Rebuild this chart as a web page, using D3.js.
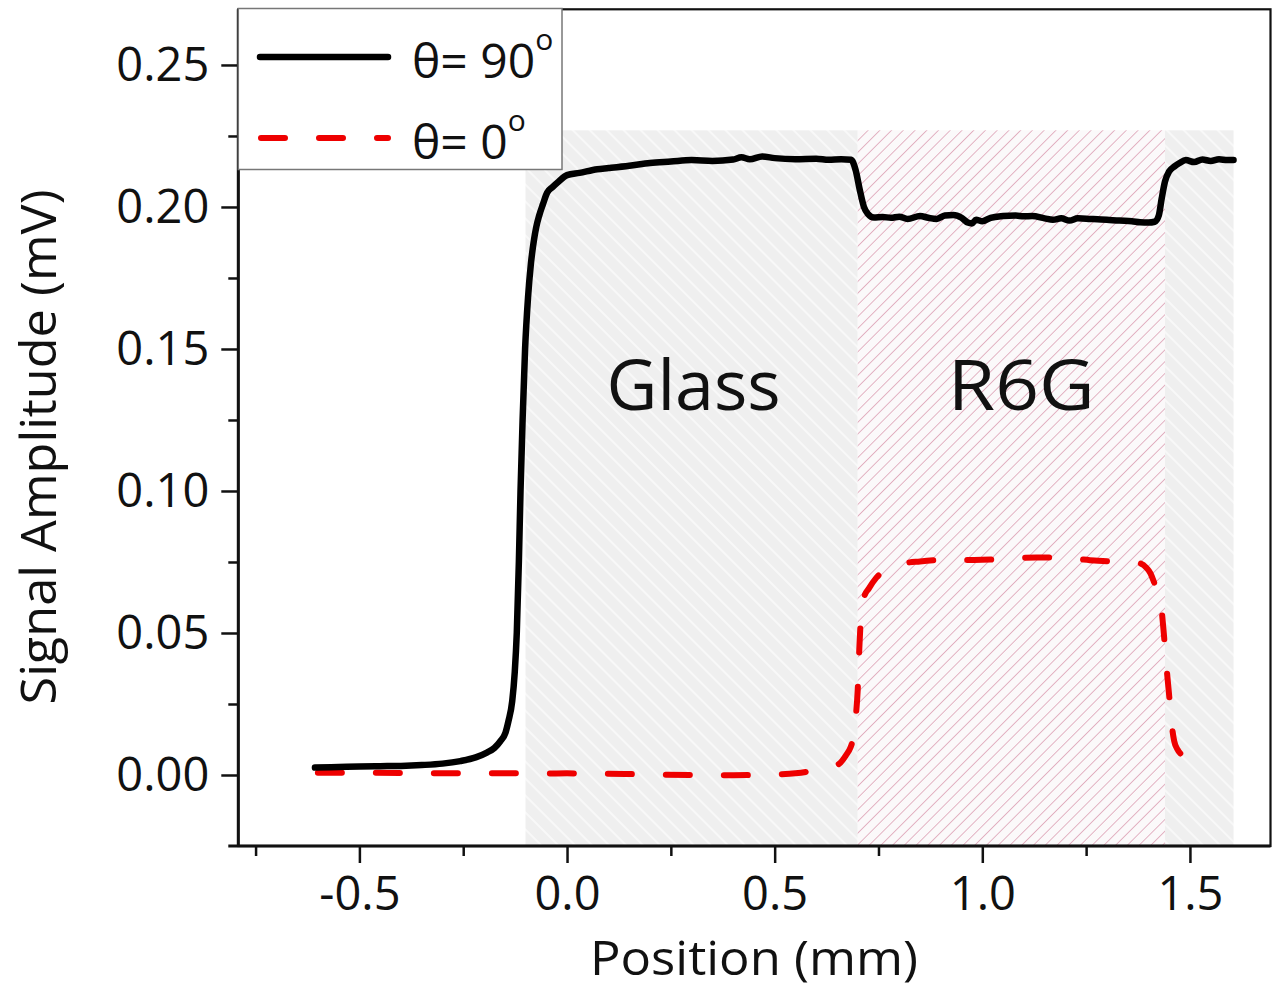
<!DOCTYPE html>
<html>
<head>
<meta charset="utf-8">
<script src="https://cdn.jsdelivr.net/npm/d3@7"></script>
<style>
  html, body { margin: 0; padding: 0; background: #fff; }
  svg { display: block; }
  text { font-family: "Open Sans", "Noto Sans", sans-serif; fill: #111; }
</style>
</head>
<body>
<svg id="chart" width="1280" height="993"></svg>
<script>
// ---- data ----
const xTicksMajor = [-0.5, 0.0, 0.5, 1.0, 1.5];
const xTicksMinor = [-0.75, -0.25, 0.25, 0.75, 1.25];
const yTicksMajor = [0.00, 0.05, 0.10, 0.15, 0.20, 0.25];
const yTicksMinor = [0.025, 0.075, 0.125, 0.175, 0.225];

const seriesNames = ["θ= 90", "θ= 0"];

const pos90 = [-0.607,-0.55,-0.5,-0.45,-0.4,-0.35,-0.3,-0.257,-0.22,-0.193,-0.175,-0.16,-0.148,-0.141,-0.132,-0.126,-0.121,-0.116,-0.112,-0.107,-0.101,-0.094,-0.087,-0.080,-0.074,-0.067,-0.058,-0.048,-0.035,-0.02,0.0,0.03,0.073,0.1,0.15,0.2,0.25,0.3,0.35,0.4,0.42,0.44,0.47,0.5,0.55,0.6,0.63,0.66,0.684,0.695,0.705,0.715,0.725,0.739,0.76,0.78,0.8,0.82,0.85,0.87,0.89,0.91,0.93,0.95,0.965,0.975,0.985,1.0,1.02,1.05,1.08,1.1,1.12,1.15,1.17,1.19,1.21,1.23,1.26,1.3,1.33,1.36,1.38,1.4,1.415,1.425,1.432,1.44,1.45,1.463,1.475,1.49,1.51,1.53,1.55,1.57,1.59,1.605];
const amp90 = [0.0026,0.0028,0.0030,0.0031,0.0032,0.0035,0.0040,0.0049,0.0062,0.0079,0.0095,0.012,0.015,0.019,0.026,0.036,0.050,0.075,0.100,0.125,0.150,0.168,0.180,0.188,0.193,0.197,0.201,0.205,0.207,0.209,0.2112,0.212,0.2133,0.2137,0.2145,0.2155,0.2160,0.2165,0.2162,0.2167,0.2175,0.2168,0.2178,0.2172,0.2168,0.2170,0.2166,0.2168,0.2166,0.213,0.206,0.200,0.1975,0.1963,0.1965,0.1962,0.1966,0.1958,0.1968,0.1962,0.1958,0.1970,0.1972,0.1962,0.1945,0.1942,0.1955,0.1950,0.1962,0.1968,0.1970,0.1967,0.1968,0.1960,0.1955,0.1960,0.1952,0.1960,0.1958,0.1955,0.1952,0.1950,0.1946,0.1945,0.1948,0.1970,0.2030,0.2090,0.2125,0.2143,0.2155,0.2165,0.2158,0.2167,0.2162,0.2168,0.2165,0.2165];

const pos0 = [-0.6,-0.5,-0.4,-0.3,-0.2,-0.1,-0.05,0.0,0.05,0.1,0.2,0.3,0.4,0.45,0.5,0.55,0.58,0.61,0.635,0.655,0.672,0.682,0.689,0.695,0.7,0.704,0.709,0.715,0.727,0.745,0.773,0.81,0.85,0.884,0.93,0.98,1.029,1.08,1.13,1.174,1.22,1.27,1.31,1.335,1.36,1.38,1.395,1.405,1.412,1.42,1.431,1.437,1.443,1.45,1.456,1.462,1.47,1.484,1.5,1.52,1.547];
const amp0 = [0.0008,0.0008,0.0007,0.0006,0.0006,0.0006,0.0005,0.0006,0.0004,0.0004,0.0002,0.0000,-0.0001,0.0000,0.0002,0.0006,0.0012,0.0022,0.0030,0.0039,0.0070,0.0095,0.0130,0.0200,0.0300,0.0450,0.0580,0.0625,0.0657,0.0695,0.0725,0.0745,0.0752,0.0756,0.0758,0.0757,0.0759,0.0764,0.0766,0.0766,0.0762,0.0755,0.0752,0.0749,0.0748,0.0745,0.0730,0.0710,0.0685,0.0650,0.0590,0.0500,0.0390,0.0280,0.0180,0.0120,0.0090,0.0067,0.0055,0.0048,0.0042];

const regionNames = ["Glass", "R6G", ""];
const regionStart = [-0.1, 0.7, 1.44];
const regionEnd   = [0.7, 1.44, 1.605];
const regionTop = 0.227;

// ---- layout ----
const svg = d3.select("#chart");
const L = 238.3, R = 1270.5, T = 9.3, B = 846;
const x = d3.scaleLinear().domain([-0.7916, 1.694]).range([L, R]);
const y = d3.scaleLinear().domain([-0.025, 0.2696]).range([B, T]);

// patterns
const defs = svg.append("defs");
const pg = defs.append("pattern").attr("id", "glassHatch").attr("patternUnits", "userSpaceOnUse")
  .attr("width", 12).attr("height", 12).attr("patternTransform", "rotate(-45)");
pg.append("rect").attr("width", 12).attr("height", 12).attr("fill", "#efefef");
pg.append("line").attr("x1", 0).attr("y1", 0).attr("x2", 0).attr("y2", 12)
  .attr("stroke", "#f8f8f8").attr("stroke-width", 4);
const pr = defs.append("pattern").attr("id", "r6gHatch").attr("patternUnits", "userSpaceOnUse")
  .attr("width", 8.3).attr("height", 8.3).attr("patternTransform", "rotate(45)");
pr.append("rect").attr("width", 8.3).attr("height", 8.3).attr("fill", "#fbf9fa");
pr.append("line").attr("x1", 0).attr("y1", 0).attr("x2", 0).attr("y2", 8.3)
  .attr("stroke", "#d4869f").attr("stroke-width", 1.2);

// regions
const regions = regionNames.map((n, i) => ({ name: n, s: regionStart[i], e: regionEnd[i] }));
svg.append("g").selectAll("rect").data(regions).join("rect")
  .attr("x", d => x(d.s)).attr("width", d => x(d.e) - x(d.s))
  .attr("y", y(regionTop)).attr("height", B - y(regionTop))
  .attr("fill", d => d.name === "R6G" ? "url(#r6gHatch)" : "url(#glassHatch)");

svg.append("g").selectAll("text").data(regions.filter(d => d.name)).join("text")
  .attr("x", d => (x(d.s) + x(d.e)) / 2 + (d.name === "Glass" ? 2 : 10))
  .attr("y", 410)
  .attr("text-anchor", "middle")
  .attr("font-size", 70)
  .each(function(d) {
    if (d.name === "R6G") d3.select(this).attr("textLength", 147).attr("lengthAdjust", "spacingAndGlyphs");
  })
  .text(d => d.name);

// lines
const d90 = pos90.map((p, i) => [p, amp90[i]]);
const d0 = pos0.map((p, i) => [p, amp0[i]]);
const line = d3.line().x(d => x(d[0])).y(d => y(d[1])).curve(d3.curveMonotoneX);

svg.append("path").datum(d0).attr("d", line)
  .attr("fill", "none").attr("stroke", "#ee0000").attr("stroke-width", 6)
  .attr("stroke-linecap", "round").attr("stroke-linejoin", "round")
  .attr("stroke-dasharray", "24,34");
svg.append("path").datum(d90).attr("d", line)
  .attr("fill", "none").attr("stroke", "#000").attr("stroke-width", 6.5)
  .attr("stroke-linejoin", "round").attr("stroke-linecap", "round");

// axes
const gx = svg.append("g").attr("transform", `translate(0,${B})`);
const gxMaj = gx.append("g").call(d3.axisBottom(x).tickValues(xTicksMajor).tickSize(17).tickPadding(14).tickFormat(d => d3.format(".1f")(d).replace("−", "-")));
const gxMin = gx.append("g").call(d3.axisBottom(x).tickValues(xTicksMinor).tickSize(10).tickFormat(""));
gx.selectAll(".domain").remove();
gx.selectAll(".tick line").attr("stroke", "#111").attr("stroke-width", 2.5);
gxMaj.selectAll(".tick text").attr("font-size", 47).attr("fill", "#111")
  .attr("font-family", "'Open Sans', sans-serif");

const gy = svg.append("g").attr("transform", `translate(${L},0)`);
const gyMaj = gy.append("g").call(d3.axisLeft(y).tickValues(yTicksMajor).tickSize(17).tickPadding(12).tickFormat(d3.format(".2f")));
const gyMin = gy.append("g").call(d3.axisLeft(y).tickValues(yTicksMinor).tickSize(10).tickFormat(""));
gy.selectAll(".domain").remove();
gy.selectAll(".tick line").attr("stroke", "#111").attr("stroke-width", 2.5);
gyMaj.selectAll(".tick text").attr("font-size", 47).attr("fill", "#111")
  .attr("font-family", "'Open Sans', sans-serif");

// frame
svg.append("rect").attr("x", L).attr("y", T).attr("width", R - L).attr("height", B - T)
  .attr("fill", "none").attr("stroke", "#111").attr("stroke-width", 2.2);
svg.append("line").attr("x1", L).attr("x2", L).attr("y1", T).attr("y2", B)
  .attr("stroke", "#111").attr("stroke-width", 3);
svg.append("line").attr("x1", L - 10).attr("x2", R).attr("y1", B).attr("y2", B)
  .attr("stroke", "#111").attr("stroke-width", 3);

// axis titles
svg.append("text").attr("x", 754).attr("y", 975).attr("text-anchor", "middle")
  .attr("font-size", 48).attr("textLength", 328).attr("lengthAdjust", "spacingAndGlyphs")
  .text("Position (mm)");
svg.append("text").attr("transform", "translate(56,447) rotate(-90)").attr("text-anchor", "middle")
  .attr("font-size", 50).attr("textLength", 515).attr("lengthAdjust", "spacingAndGlyphs")
  .text("Signal Amplitude (mV)");

// legend
const lg = svg.append("g");
lg.append("rect").attr("x", L).attr("y", 8.5).attr("width", 562 - L).attr("height", 161)
  .attr("fill", "#fff").attr("stroke", "#777").attr("stroke-width", 1.5);
const legendY = [57, 138];
lg.append("line").attr("x1", 260).attr("x2", 388).attr("y1", legendY[0]).attr("y2", legendY[0])
  .attr("stroke", "#000").attr("stroke-width", 6.5).attr("stroke-linecap", "round");
lg.append("line").attr("x1", 261).attr("x2", 388).attr("y1", legendY[1]).attr("y2", legendY[1])
  .attr("stroke", "#ee0000").attr("stroke-width", 6).attr("stroke-linecap", "round")
  .attr("stroke-dasharray", "24,34");
seriesNames.forEach((n, i) => {
  const t = lg.append("text").attr("x", 412).attr("y", legendY[i] + 21).attr("font-size", 48);
  t.append("tspan").text(n);
  t.append("tspan").attr("dy", -28).attr("font-size", 30).text("o");
});
</script>
</body>
</html>
